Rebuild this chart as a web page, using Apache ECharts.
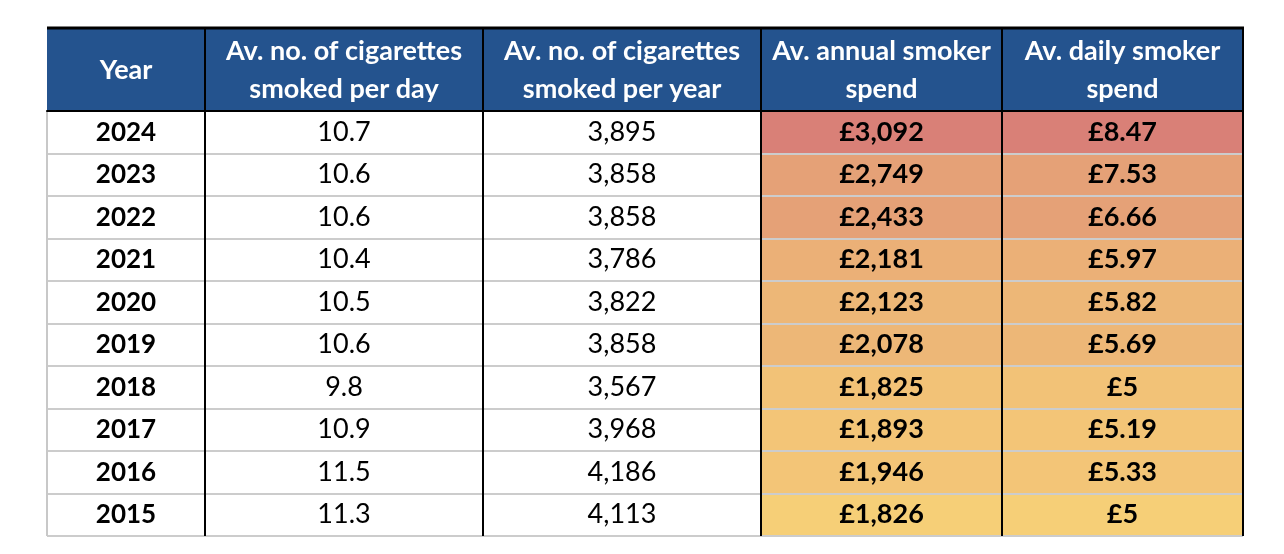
<!DOCTYPE html>
<html>
<head>
<meta charset="utf-8">
<script src="https://cdn.jsdelivr.net/npm/echarts@6/dist/echarts.min.js"></script>
<style>
  html, body { margin: 0; padding: 0; background: #fff; }
  #chart { width: 1284px; height: 554px; }
</style>
</head>
<body>
<div id="chart"></div>
<script>
// table data
const headers = [
  'Year',
  'Av. no. of cigarettes\nsmoked per day',
  'Av. no. of cigarettes\nsmoked per year',
  'Av. annual smoker\nspend',
  'Av. daily smoker\nspend'
];
const years = ['2024', '2023', '2022', '2021', '2020', '2019', '2018', '2017', '2016', '2015'];
const perDay = [10.7, 10.6, 10.6, 10.4, 10.5, 10.6, 9.8, 10.9, 11.5, 11.3];
const perYear = [3895, 3858, 3858, 3786, 3822, 3858, 3567, 3968, 4186, 4113];
const annualSpend = [3092, 2749, 2433, 2181, 2123, 2078, 1825, 1893, 1946, 1826];
const dailySpend = [8.47, 7.53, 6.66, 5.97, 5.82, 5.69, 5, 5.19, 5.33, 5];

// styling / layout
const rowColors = ['#d98077', '#e5a177', '#e5a177', '#ebb077', '#edb777', '#edb777',
                   '#f2c277', '#f3c577', '#f3c577', '#f6cf77'];
const edges = [47, 205, 483, 761, 1002, 1243];
const tableTop = 28, headTop = 111, tableBottom = 536;
const FONT = 'Lato, "Open Sans", sans-serif';

const fmtInt = v => v.toLocaleString('en-GB');
const columns = [
  { values: years, text: v => v, bold: true, size: 26, fill: () => '#fff' },
  { values: perDay, text: v => String(v), bold: false, size: 27, fill: () => '#fff' },
  { values: perYear, text: fmtInt, bold: false, size: 27, fill: () => '#fff' },
  { values: annualSpend, text: v => '£' + fmtInt(v), bold: true, size: 27, fill: i => rowColors[i] },
  { values: dailySpend, text: v => '£' + String(v), bold: true, size: 27, fill: i => rowColors[i] }
];

const chart = echarts.init(document.getElementById('chart'));

const grids = [], xAxes = [], yAxes = [], series = [], graphics = [];
columns.forEach((col, c) => {
  const w = edges[c + 1] - edges[c];
  grids.push({ left: edges[c], width: w, top: headTop, height: tableBottom - headTop });
  xAxes.push({
    type: 'category', gridIndex: c, position: 'top', data: [headers[c]], z: 6,
    axisLine: { show: true, lineStyle: { color: '#000', width: 2 } },
    axisTick: { show: false },
    axisLabel: {
      color: '#fff', fontFamily: FONT, fontWeight: 'bold', fontSize: 27,
      lineHeight: 38, margin: 41, verticalAlign: 'middle', align: 'center'
    },
    splitLine: { show: true, lineStyle: { color: c === 0 ? ['#c8c8c8', '#000'] : '#000', width: 2 } }
  });
  yAxes.push({
    type: 'category', gridIndex: c, data: years, inverse: true, z: 5,
    axisLine: { show: false }, axisTick: { show: false }, axisLabel: { show: false },
    splitLine: { show: true, lineStyle: { color: '#cccccc', width: 2 } }
  });
  series.push({
    type: 'custom', xAxisIndex: c, yAxisIndex: c,
    data: col.values.map((v, i) => [headers[c], years[i], v]),
    renderItem: (params, api) => {
      const p = api.coord([api.value(0), api.value(1)]);
      const s = api.size([1, 1]);
      const i = params.dataIndex;
      return {
        type: 'rect',
        shape: { x: p[0] - s[0] / 2, y: p[1] - s[1] / 2, width: s[0], height: s[1] },
        style: { fill: col.fill(i) },
        textContent: {
          style: {
            text: col.text(col.values[i]), fill: '#000',
            fontFamily: FONT, fontSize: col.size, fontWeight: col.bold ? 'bold' : 'normal'
          }
        },
        textConfig: { position: 'inside' }
      };
    }
  });
  graphics.push({
    type: 'rect', z: 0,
    shape: { x: edges[c], y: tableTop, width: w, height: headTop - tableTop },
    style: { fill: '#24538e' }
  });
  if (c > 0) {
    graphics.push({
      type: 'line', z: 1,
      shape: { x1: edges[c], y1: tableTop, x2: edges[c], y2: headTop },
      style: { stroke: '#000', lineWidth: 2 }
    });
  }
});
graphics.push({
  type: 'line', z: 1,
  shape: { x1: edges[5], y1: tableTop, x2: edges[5], y2: headTop },
  style: { stroke: '#000', lineWidth: 2 }
});
graphics.push({
  type: 'line', z: 1,
  shape: { x1: edges[0], y1: tableTop, x2: edges[5] + 1, y2: tableTop },
  style: { stroke: '#000', lineWidth: 3 }
});

chart.setOption({
  animation: false,
  grid: grids,
  xAxis: xAxes,
  yAxis: yAxes,
  series: series,
  graphic: { elements: graphics }
});
</script>
</body>
</html>
